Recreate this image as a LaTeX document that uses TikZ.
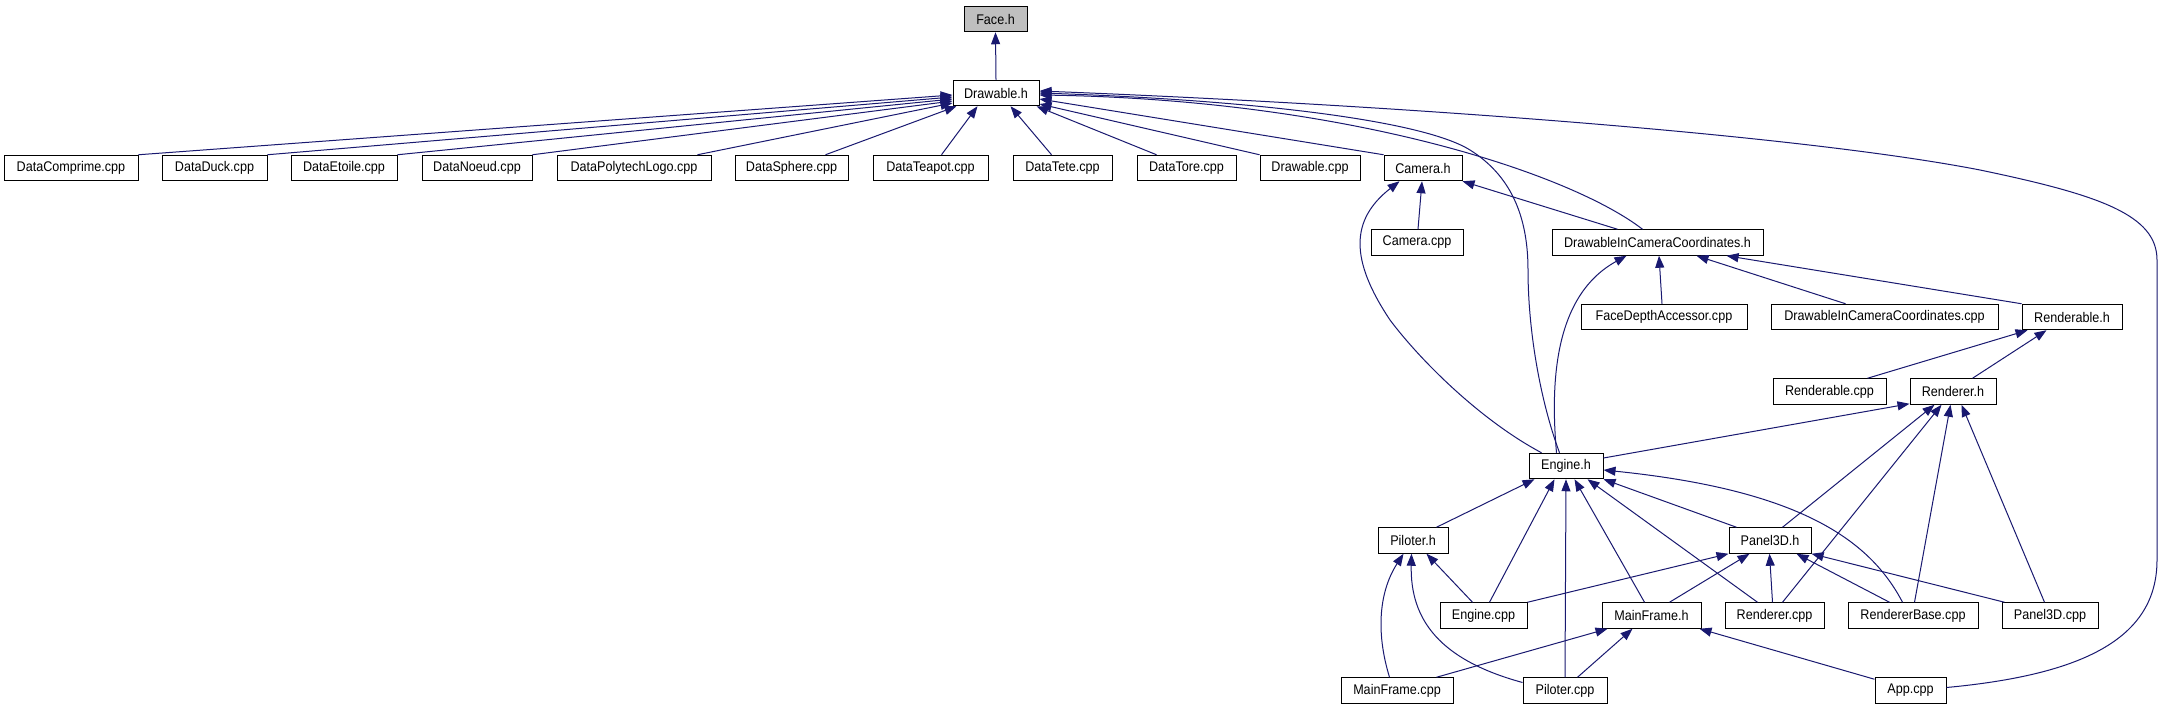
\documentclass[tikz,border=0pt]{standalone}
\usepackage{fontspec}
\setmainfont{Liberation Sans}[FakeStretch=0.9]
\usetikzlibrary{arrows.meta,calc}
\definecolor{edgeblue}{RGB}{25,25,112}
\definecolor{facegray}{RGB}{191,191,191}
\begin{document}
\begin{tikzpicture}[x=1pt,y=-1pt,
  box/.style={draw=black, fill=white, line width=1pt, minimum height=25.5pt, inner sep=0pt, font=\fontsize{14}{16}\selectfont},
  edge/.style={draw=edgeblue, line width=1pt, -{Triangle[length=12pt,width=9pt]}}]
\useasboundingbox (0,0) rectangle (2161,709);
\fill[white] (0,0) rectangle (2161,709);

% nodes
\node[box,fill=facegray,minimum width=63pt] (face) at (995.5,19) {Face.h};
\node[box,minimum width=86pt] (drw) at (996,93) {Drawable.h};
\node[box,minimum width=134pt] (dcomp) at (71,168) {DataComprime.cpp};
\node[box,minimum width=105pt] (dduck) at (214.5,168) {DataDuck.cpp};
\node[box,minimum width=106pt] (detoile) at (344,168) {DataEtoile.cpp};
\node[box,minimum width=110pt] (dnoeud) at (477,168) {DataNoeud.cpp};
\node[box,minimum width=154pt] (dpoly) at (634,168) {DataPolytechLogo.cpp};
\node[box,minimum width=113pt] (dsphere) at (791.5,168) {DataSphere.cpp};
\node[box,minimum width=115pt] (dteapot) at (930.5,168) {DataTeapot.cpp};
\node[box,minimum width=99pt] (dtete) at (1062.5,168) {DataTete.cpp};
\node[box,minimum width=99pt] (dtore) at (1186.5,168) {DataTore.cpp};
\node[box,minimum width=100pt] (drwcpp) at (1310,168) {Drawable.cpp};
\node[box,minimum width=78pt] (camh) at (1423,168) {Camera.h};
\node[box,minimum width=92pt] (camcpp) at (1417,242.5) {Camera.cpp};
\node[box,minimum width=211pt] (dicch) at (1657.5,242.5) {DrawableInCameraCoordinates.h};
\node[box,minimum width=166pt] (fda) at (1664,317) {FaceDepthAccessor.cpp};
\node[box,minimum width=227pt] (dicccpp) at (1884.5,317) {DrawableInCameraCoordinates.cpp};
\node[box,minimum width=100pt] (rblh) at (2072,317) {Renderable.h};
\node[box,minimum width=113pt] (rblcpp) at (1829.5,391.5) {Renderable.cpp};
\node[box,minimum width=86pt] (rrh) at (1953,391.5) {Renderer.h};
\node[box,minimum width=74pt] (engh) at (1566,466) {Engine.h};
\node[box,minimum width=70pt] (pilh) at (1413,540.5) {Piloter.h};
\node[box,minimum width=82pt] (p3dh) at (1770,540.5) {Panel3D.h};
\node[box,minimum width=87pt] (engcpp) at (1483.5,615.5) {Engine.cpp};
\node[box,minimum width=99pt] (mfh) at (1651.5,615.5) {MainFrame.h};
\node[box,minimum width=99pt] (rrcpp) at (1774.5,615.5) {Renderer.cpp};
\node[box,minimum width=130pt] (rbcpp) at (1913,615.5) {RendererBase.cpp};
\node[box,minimum width=96pt] (p3dcpp) at (2050,615.5) {Panel3D.cpp};
\node[box,minimum width=112pt] (mfcpp) at (1397,690.5) {MainFrame.cpp};
\node[box,minimum width=84pt] (pilcpp) at (1565,690.5) {Piloter.cpp};
\node[box,minimum width=71pt] (app) at (1910.5,690.5) {App.cpp};

% Drawable.h -> Face.h
\draw[edge] (drw.north) -- (face.south);

% fan into Drawable.h
\draw[edge] (dcomp.north east) -- ($(drw.west)+(0,2)$);
\draw[edge] (dduck.north east) -- ($(drw.west)+(0,4)$);
\draw[edge] (detoile.north east) -- ($(drw.west)+(0,6)$);
\draw[edge] (dnoeud.north east) -- ($(drw.west)+(0,8)$);
\draw[edge] ($(dpoly.north east)+(-14,0)$) -- ($(drw.west)+(0,10)$);
\draw[edge] ($(dsphere.north east)+(-23,0)$) -- ($(drw.south west)+(4,0)$);
\draw[edge] ($(dteapot.north)+(11,0)$) -- ($(drw.south west)+(25,0)$);
\draw[edge] ($(dtete.north)+(-11,0)$) -- ($(drw.south west)+(58,0)$);
\draw[edge] ($(dtore.north west)+(20,0)$) -- ($(drw.south east)+(-3,0)$);
\draw[edge] (drwcpp.north west) -- ($(drw.east)+(0,11)$);
\draw[edge] (camh.north west) -- ($(drw.east)+(0,6)$);
\draw[edge] ($(dicch.north west)+(91,0)$) .. controls (1571,174) and (1350,100) .. ($(drw.east)+(0,2)$);
\draw[edge] ($(engh.north west)+(31,0)$) .. controls (1540,400) and (1528,330) .. (1528,270)
   .. controls (1528,215) and (1510,175) .. (1470,150)
   .. controls (1422,120) and (1250,100) .. (drw.east);
\draw[edge] ($(app.east)+(0,-3)$) .. controls (2080,675) and (2157,640) .. (2157,560)
   -- (2157,260) .. controls (2157,215) and (2100,195) .. (1980,170)
   .. controls (1800,135) and (1400,105) .. ($(drw.east)+(0,-2)$);

% Camera.h
\draw[edge] ($(camcpp.north)+(1,0)$) -- ($(camh.south)+(-1,0)$);
\draw[edge] ($(dicch.north west)+(66,0)$) -- (camh.south east);
\draw[edge] ($(engh.north west)+(13,0)$) .. controls (1480,420) and (1420,360) .. (1390,320)
   .. controls (1350,260) and (1350,220) .. ($(camh.south west)+(16,0)$);

% DrawableInCameraCoordinates.h
\draw[edge] ($(engh.north west)+(28,0)$) .. controls (1550,380) and (1555,295) .. ($(dicch.south west)+(75,0)$);
\draw[edge] ($(fda.north)+(-2,0)$) -- ($(dicch.south)+(1.5,0)$);
\draw[edge] ($(dicccpp.north west)+(75,0)$) -- ($(dicch.south west)+(145,0)$);
\draw[edge] (rblh.north west) -- ($(dicch.south west)+(175,0)$);

% Renderable.h
\draw[edge] ($(rblcpp.north west)+(95,0)$) -- ($(rblh.south west)+(6,0)$);
\draw[edge] ($(rrh.north west)+(63,0)$) -- ($(rblh.south west)+(25,0)$);

% Renderer.h
\draw[edge] ($(engh.east)+(0,-8)$) -- ($(rrh.south west)+(0,-1)$);
\draw[edge] ($(p3dh.north west)+(54,0)$) -- ($(rrh.south west)+(25,0)$);
\draw[edge] ($(rrcpp.north west)+(58,0)$) -- ($(rrh.south west)+(32,0)$);
\draw[edge] ($(rbcpp.north west)+(67,0)$) -- ($(rrh.south west)+(41,0)$);
\draw[edge] ($(p3dcpp.north west)+(43,0)$) -- ($(rrh.south west)+(52,0)$);

% Engine.h
\draw[edge] ($(pilh.north west)+(59,0)$) -- ($(engh.south west)+(6,0)$);
\draw[edge] ($(engcpp.north west)+(50,0)$) -- ($(engh.south west)+(26,0)$);
\draw[edge] (pilcpp.north) -- (engh.south);
\draw[edge] ($(mfh.north west)+(43,0)$) -- ($(engh.south west)+(46,0)$);
\draw[edge] ($(rrcpp.north west)+(33,0)$) -- ($(engh.south west)+(59,0)$);
\draw[edge] ($(p3dh.north west)+(8,0)$) -- (engh.south east);
\draw[edge] ($(rbcpp.north west)+(55,0)$) .. controls (1870,540) and (1800,490) .. ($(engh.east)+(0,4)$);

% Piloter.h
\draw[edge] ($(engcpp.north west)+(33,0)$) -- ($(pilh.south west)+(49,0)$);
\draw[edge] ($(mfcpp.north west)+(49,0)$) .. controls (1375,630) and (1380,590) .. ($(pilh.south west)+(26,0)$);
\draw[edge] ($(pilcpp.west)+(0,-8)$) .. controls (1440,660) and (1410,620) .. ($(pilh.south west)+(34,0)$);

% Panel3D.h
\draw[edge] (engcpp.north east) -- (p3dh.south west);
\draw[edge] ($(mfh.north west)+(68,0)$) -- ($(p3dh.south west)+(21,0)$);
\draw[edge] ($(rrcpp.north west)+(48,0)$) -- ($(p3dh.south west)+(41,0)$);
\draw[edge] ($(rbcpp.north west)+(42,0)$) -- ($(p3dh.south west)+(68,0)$);
\draw[edge] ($(p3dcpp.north west)+(3,0)$) -- (p3dh.south east);

% MainFrame.h
\draw[edge] ($(mfcpp.north west)+(96,0)$) -- ($(mfh.south west)+(6,0)$);
\draw[edge] ($(pilcpp.north west)+(55,0)$) -- ($(mfh.south west)+(31,0)$);
\draw[edge] ($(app.north west)+(0,2)$) -- ($(mfh.south east)+(-2,0)$);
\end{tikzpicture}
\end{document}
